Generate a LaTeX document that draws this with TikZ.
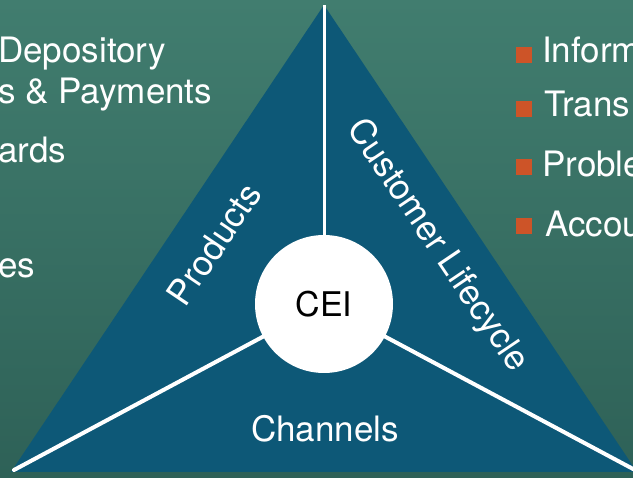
\documentclass[tikz,border=0pt]{standalone}
\usepackage{fontspec}
\setmainfont{TeX Gyre Heros}
\definecolor{bgtop}{HTML}{417D6F}
\definecolor{bgbot}{HTML}{2E6157}
\definecolor{triblue}{HTML}{0D5877}
\definecolor{bulletorange}{HTML}{CD5428}
\begin{document}
\begin{tikzpicture}[x=1pt,y=-1pt,
  big/.style={font=\fontsize{35}{42}\selectfont, text=white, inner sep=0pt},
  spoke/.style={white, line width=4pt, line cap=round},
  bullet/.style={fill=bulletorange, minimum size=16pt, inner sep=0pt}]
\useasboundingbox (0,0) rectangle (633,478);
\clip (0,0) rectangle (633,478);
\shade[top color=bgtop, bottom color=bgbot] (0,0) rectangle (633,478);
% triangle
\fill[triblue] (324,5) coordinate (apex) -- (11,472) coordinate (bl) -- (637,472) coordinate (br) -- cycle;
\coordinate (lend) at (14,470);
\coordinate (rend) at (635,470);
% centre
\node[circle, fill=white, minimum size=138pt, inner sep=0pt, font=\fontsize{34}{40}\selectfont, text=black] (cei) at (324,304) {CEI};
\draw[white, line width=3pt] (cei.north) -- (apex);
\draw[spoke] (cei) -- (lend);
\draw[spoke] (cei) -- (rend);
% side labels
\node[big, rotate=56] (prod) at (214,244) {Products};
\node[big, rotate=-56] (cust) at (437,246) {Customer Lifecycle};
\node[big] (chan) at (325,429) {Channels};
% left list (cut off)
\node[big, anchor=base west] (l1) at (-2,63) {Depository};
\node[big, anchor=base west] (l2) at (-2,104) {s \& Payments};
\node[big, anchor=base west] (l3) at (-2,163) {ards};
\node[big, anchor=base west] (l4) at (-2,278) {es};
% right list (cut off)
\node[bullet] (b1) at (523.5,55.5) {};
\node[bullet] (b2) at (523.5,109) {};
\node[bullet] (b3) at (523.5,167.5) {};
\node[bullet] (b4) at (523.5,226.5) {};
\node[big, anchor=base west] (r1) at (542,63) {Inform};
\node[big, anchor=base west] (r2) at (544,117) {Trans};
\node[big, anchor=base west] (r3) at (542,177) {Proble};
\node[big, anchor=base west] (r4) at (545,237) {Accou};
\end{tikzpicture}
\end{document}
